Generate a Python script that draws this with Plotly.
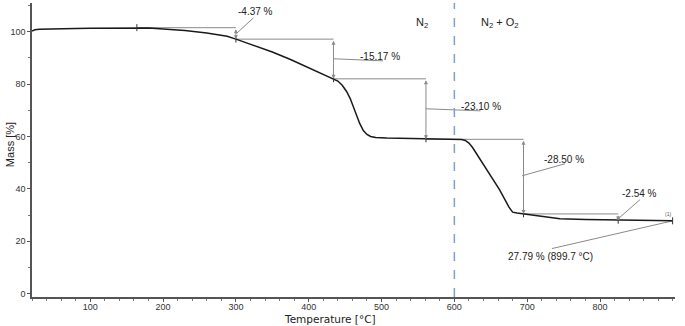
import plotly.graph_objects as go

# ---- data ----
temperature = [20, 24, 30, 40, 60, 80, 100, 130, 164, 180, 200, 230, 260, 288, 300,
               325, 350, 375, 400, 420, 434, 440, 446, 452, 457, 462, 466, 470, 475,
               480, 485, 492, 507, 530, 561, 590, 600, 605, 610, 615, 620, 625, 639,
               662, 675, 680, 686, 695, 720, 745, 780, 825, 860, 899.7]
mass = [100.3, 100.8, 101.0, 101.1, 101.2, 101.3, 101.35, 101.45, 101.6, 101.45, 101.1,
        100.5, 99.5, 98.3, 97.2, 94.9, 92.3, 89.4, 86.2, 83.9, 82.1, 81.2, 79.6, 77.2,
        74.5, 71.0, 68.0, 65.0, 62.3, 60.8, 60.0, 59.6, 59.4, 59.3, 59.1, 59.05, 59.0,
        58.95, 58.85, 58.5, 57.5, 55.8, 49.6, 39.7, 33.0, 31.1, 30.8, 30.5, 29.6, 28.6,
        28.3, 28.0, 27.9, 27.79]

step_start_T = [164, 300, 434, 561, 695]
step_end_T = [300, 434, 561, 695, 825]
step_start_mass = [101.57, 97.2, 82.03, 58.93, 30.43]
step_delta = [-4.37, -15.17, -23.10, -28.50, -2.54]
step_labels = ["-4.37 %", "-15.17 %", "-23.10 %", "-28.50 %", "-2.54 %"]
# label anchor (text centre) and leader endpoints
label_T = [327, 498, 636, 751, 854]
label_M = [107.6, 90.4, 71.4, 51.1, 38.2]
leader_from = [(301, 99.4), (434, 89.7), (561, 70.6), (693, 45.0), (825, 28.6)]
leader_to = [(324, 105.3), (502, 88.9), (636, 69.8), (752, 49.6), (855, 35.9)]

end_T, end_M = 899.7, 27.79
end_label = "27.79 % (899.7 °C)"
end_label_pos = (732, 14.1)
end_leader_to = (734, 17.2)

switch_T = 600
gas_labels = ["N<sub>2</sub>", "N<sub>2</sub> + O<sub>2</sub>"]
gas_label_T = [555, 663]
gas_label_M = 103.4

marker_T = [164, 300, 434, 561, 695, 825, 899.7]

x_title = "Temperature [°C]"
y_title = "Mass [%]"

GRAY = "#8a8a8a"
fig = go.Figure()

# step horizontal lines
for t0, t1, m0 in zip(step_start_T, step_end_T, step_start_mass):
    fig.add_trace(go.Scatter(x=[t0, t1], y=[m0, m0], mode="lines",
                             line=dict(color=GRAY, width=1), hoverinfo="skip"))
# leader lines
for (a, b), (c, d) in zip(leader_from, leader_to):
    fig.add_trace(go.Scatter(x=[a, c], y=[b, d], mode="lines",
                             line=dict(color=GRAY, width=1), hoverinfo="skip"))
fig.add_trace(go.Scatter(x=[end_T, end_leader_to[0]], y=[end_M, end_leader_to[1]],
                         mode="lines", line=dict(color=GRAY, width=1), hoverinfo="skip"))

# main curve
fig.add_trace(go.Scatter(x=temperature, y=mass, mode="lines",
                         line=dict(color="#1a1a1a", width=1.5)))

# markers on the curve
def interp(t):
    for i in range(len(temperature) - 1):
        if temperature[i] <= t <= temperature[i + 1]:
            f = (t - temperature[i]) / (temperature[i + 1] - temperature[i])
            return mass[i] + f * (mass[i + 1] - mass[i])
    return mass[-1]

fig.add_trace(go.Scatter(x=marker_T, y=[interp(t) for t in marker_T], mode="markers",
                         marker=dict(symbol="line-ns", size=5,
                                     line=dict(color="#333", width=1)),
                         hoverinfo="skip"))

annotations = []
# vertical double arrows
for t1, m0, d in zip(step_end_T, step_start_mass, step_delta):
    annotations.append(dict(x=t1, y=m0 + d, ax=t1, ay=m0, xref="x", yref="y",
                            axref="x", ayref="y", text="", showarrow=True,
                            arrowhead=2, startarrowhead=2, arrowside="end+start",
                            arrowsize=0.8, startarrowsize=0.8, arrowwidth=1,
                            arrowcolor=GRAY, standoff=0, startstandoff=0))
for t, m, s in zip(label_T, label_M, step_labels):
    annotations.append(dict(x=t, y=m, text=s, showarrow=False,
                            font=dict(family="Liberation Sans, Arial", size=10, color="#222")))
annotations.append(dict(x=end_label_pos[0], y=end_label_pos[1], text=end_label,
                        showarrow=False,
                        font=dict(family="Liberation Sans, Arial", size=10, color="#222")))
annotations.append(dict(x=end_T - 6, y=end_M + 2.5, text="(1)", showarrow=False,
                        font=dict(family="Liberation Sans, Arial", size=5, color="#555")))
for t, s in zip(gas_label_T, gas_labels):
    annotations.append(dict(x=t, y=gas_label_M, text=s, showarrow=False,
                            font=dict(family="Liberation Sans, Arial", size=11, color="#222")))
# axis titles
annotations.append(dict(x=0.463, y=-0.075, xref="paper", yref="paper", text=x_title,
                        showarrow=False, xanchor="center", yanchor="middle",
                        font=dict(family="DejaVu Sans", size=10.5, color="#222")))
annotations.append(dict(x=-0.034, y=0.517, xref="paper", yref="paper", text=y_title,
                        showarrow=False, textangle=-90, xanchor="center", yanchor="middle",
                        font=dict(family="Liberation Sans, Arial", size=11, color="#222")))

fig.add_vline(x=switch_T, line=dict(color="#7e9ed6", width=1.5, dash="dash"))

fig.update_layout(
    width=685, height=326,
    margin=dict(l=32, r=10, t=3, b=29),
    paper_bgcolor="white", plot_bgcolor="white",
    showlegend=False,
    annotations=annotations,
    xaxis=dict(range=[20, 903], tickvals=[100, 200, 300, 400, 500, 600, 700, 800],
               automargin=False, ticklabelstandoff=-3,
               showline=True, linecolor="#555", linewidth=1.5, ticks="outside",
               ticklen=3, tickcolor="#555", showgrid=False, zeroline=False,
               minor=dict(dtick=20, tick0=0, ticks="outside", ticklen=2, tickcolor="#777"),
               tickfont=dict(family="Liberation Sans, Arial", size=9, color="#333")),
    yaxis=dict(range=[-1.3, 111], tickvals=[0, 20, 40, 60, 80, 100],
               automargin=False,
               showline=True, linecolor="#555", linewidth=1.5, ticks="outside",
               ticklen=3, tickcolor="#555", showgrid=False, zeroline=False,
               minor=dict(dtick=10, tick0=0, ticks="outside", ticklen=2, tickcolor="#777"),
               tickfont=dict(family="Liberation Sans, Arial", size=9, color="#333")),
)

fig.write_html("out.html", config={"displayModeBar": False},
               post_script="document.body.style.margin='0';document.body.style.overflow='hidden';")
